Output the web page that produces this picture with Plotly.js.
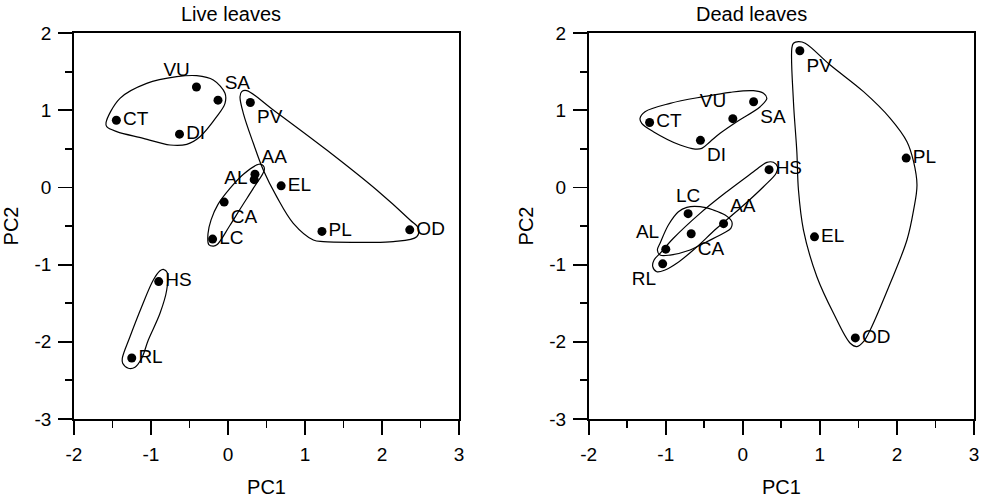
<!DOCTYPE html>
<html><head><meta charset="utf-8">
<script src="https://cdn.plot.ly/plotly-3.0.1.min.js"></script>
<style>html,body{margin:0;padding:0;background:#fff}#chart{width:981px;height:501px}</style>
</head><body><div id="chart"></div>
<script>
// ---------- data: Live leaves ----------
const liveLabels = ['CT','VU','SA','DI','PV','AA','AL','EL','CA','LC','PL','OD','HS','RL'];
const livePC1 = [-1.45,-0.41,-0.13,-0.63,0.29,0.35,0.34,0.69,-0.05,-0.20,1.22,2.36,-0.90,-1.25];
const livePC2 = [0.87,1.30,1.13,0.69,1.10,0.17,0.10,0.02,-0.19,-0.67,-0.57,-0.55,-1.22,-2.21];

// ---------- data: Dead leaves ----------
const deadLabels = ['CT','VU','SA','DI','PV','PL','HS','LC','AA','CA','AL','RL','EL','OD'];
const deadPC1 = [-1.21,-0.13,0.14,-0.55,0.74,2.12,0.34,-0.71,-0.25,-0.67,-1.00,-1.04,0.93,1.46];
const deadPC2 = [0.84,0.89,1.11,0.61,1.77,0.38,0.23,-0.34,-0.47,-0.60,-0.80,-0.99,-0.64,-1.95];

// ---------- group outlines ----------
const liveHullA_x = [-1.584,-1.403,-1.056,-0.666,-0.406,-0.191,-0.039,-0.039,-0.147,-0.364,-0.536,-0.753,-1.100,-1.445,-1.575];
const liveHullA_y = [0.838,1.154,1.348,1.434,1.447,1.391,1.219,1.089,0.916,0.657,0.558,0.549,0.636,0.722,0.786];
const liveHullB_x = [0.178,0.243,0.588,1.282,1.931,2.364,2.472,2.451,2.147,1.714,1.238,1.108,0.848,0.632,0.458,0.329,0.199,0.156];
const liveHullB_y = [1.240,1.253,1.003,0.484,-0.034,-0.422,-0.530,-0.639,-0.703,-0.711,-0.703,-0.681,-0.465,-0.120,0.225,0.571,0.960,1.175];
const liveHullC_x = [0.40,0.20,0.02,-0.13,-0.22,-0.26,-0.25,-0.19,-0.14,0.02,0.17,0.33,0.47,0.46];
const liveHullC_y = [0.30,0.17,-0.02,-0.22,-0.42,-0.60,-0.74,-0.76,-0.74,-0.50,-0.26,-0.01,0.22,0.28];
const liveHullD_x = [-0.840,-0.788,-0.796,-0.883,-1.035,-1.121,-1.208,-1.295,-1.368,-1.373,-1.273,-1.121,-0.970,-0.883];
const liveHullD_y = [-1.061,-1.105,-1.329,-1.631,-1.977,-2.214,-2.330,-2.343,-2.279,-2.214,-1.934,-1.545,-1.199,-1.079];

const deadHullA_x = [-1.334,-1.269,-0.944,-0.512,-0.165,0.138,0.268,0.312,0.225,-0.078,-0.295,-0.425,-0.532,-0.619,-0.814,-1.161,-1.312];
const deadHullA_y = [0.895,0.981,1.089,1.175,1.232,1.253,1.219,1.154,1.045,0.851,0.701,0.592,0.506,0.497,0.549,0.722,0.830];
const deadHullB_x = [0.657,0.722,0.809,1.134,1.566,1.913,2.130,2.216,2.260,2.216,2.130,1.913,1.653,1.566,1.481,1.394,1.177,0.961,0.787,0.722,0.701,0.657,0.636];
const deadHullB_y = [1.867,1.887,1.867,1.585,1.240,0.895,0.592,0.333,0.031,-0.293,-0.681,-1.242,-1.847,-1.999,-2.063,-2.019,-1.631,-1.157,-0.552,-0.034,0.462,1.110,1.802];
const deadHullC_x = [0.312,0.397,0.449,0.432,0.268,-0.035,-0.338,-0.642,-0.857,-1.009,-1.117,-1.169,-1.152,-1.074,-0.901,-0.555,-0.208,0.138,0.268];
const deadHullC_y = [0.325,0.325,0.268,0.183,0.009,-0.271,-0.530,-0.811,-0.983,-1.070,-1.092,-1.027,-0.940,-0.854,-0.659,-0.336,-0.056,0.203,0.299];
const deadHullD_x = [-1.109,-1.074,-0.966,-0.836,-0.727,-0.555,-0.382,-0.230,-0.143,-0.156,-0.252,-0.468,-0.684,-0.944,-1.074];
const deadHullD_y = [-0.811,-0.724,-0.487,-0.315,-0.258,-0.250,-0.293,-0.358,-0.444,-0.530,-0.595,-0.703,-0.811,-0.876,-0.876];

// ---------- tick labels ----------
const tickValues = [-3,-2,-1,0,1,2,3];
const tickLabels = ['-3','-2','-1','0','1','2','3'];

// ---------- styles ----------
const livePos = ['middle right','top left','top right','middle right','bottom right','top right','middle left',
  'middle right','bottom right','middle right','middle right','middle right','middle right','middle right'];
const deadPos = ['middle right','top left','bottom right','bottom right','bottom right','middle right','middle right',
  'top center','top right','bottom right','top left','bottom left','middle right','middle right'];

const FONT = 'Liberation Sans, Arial, Helvetica, sans-serif';

function hullTrace(xs, ys, xa, ya) {
  return {
    x: xs.concat([xs[0]]), y: ys.concat([ys[0]]),
    xaxis: xa, yaxis: ya, type: 'scatter', mode: 'lines',
    line: {color: '#000', width: 1.2, shape: 'spline', smoothing: 1},
    hoverinfo: 'skip', showlegend: false
  };
}
function pointTrace(xs, ys, labels, pos, xa, ya) {
  return {
    x: xs, y: ys, text: labels, textposition: pos,
    xaxis: xa, yaxis: ya, type: 'scatter', mode: 'markers+text',
    marker: {color: '#000', size: 9},
    textfont: {family: FONT, size: 19, color: '#000'},
    showlegend: false
  };
}

const data = [
  hullTrace(liveHullA_x, liveHullA_y, 'x', 'y'),
  hullTrace(liveHullB_x, liveHullB_y, 'x', 'y'),
  hullTrace(liveHullC_x, liveHullC_y, 'x', 'y'),
  hullTrace(liveHullD_x, liveHullD_y, 'x', 'y'),
  pointTrace(livePC1, livePC2, liveLabels, livePos, 'x', 'y'),
  hullTrace(deadHullA_x, deadHullA_y, 'x2', 'y2'),
  hullTrace(deadHullB_x, deadHullB_y, 'x2', 'y2'),
  hullTrace(deadHullC_x, deadHullC_y, 'x2', 'y2'),
  hullTrace(deadHullD_x, deadHullD_y, 'x2', 'y2'),
  pointTrace(deadPC1, deadPC2, deadLabels, deadPos, 'x2', 'y2')
];

function axis(extra) {
  return Object.assign({
    showgrid: false, zeroline: false, showline: true, linecolor: '#000', linewidth: 1.8, mirror: true,
    ticks: 'outside', ticklen: 14, tickwidth: 1.8, tickcolor: '#000',
    tickmode: 'array', tickvals: tickValues, ticktext: tickLabels,
    minor: {ticks: 'outside', ticklen: 7, tickwidth: 1.8, tickcolor: '#000', tickmode: 'linear', tick0: 0, dtick: 0.5, showgrid: false},
    tickfont: {family: FONT, size: 19, color: '#000'},
    fixedrange: true
  }, extra);
}
const xTitle = {text: 'PC1', font: {family: FONT, size: 20, color: '#000'}, standoff: 16};
const yTitle = {text: 'PC2', font: {family: FONT, size: 20, color: '#000'}, standoff: 10};

const layout = {
  width: 981, height: 501,
  margin: {l: 74, r: 7, t: 33, b: 82},
  paper_bgcolor: '#fff', plot_bgcolor: '#fff',
  showlegend: false,
  xaxis: axis({domain: [0, 0.4278], range: [-2, 3], anchor: 'y', title: xTitle, ticklabelstandoff: 3}),
  yaxis: axis({domain: [0, 1], range: [-3, 2], anchor: 'x', title: yTitle, ticklabelstandoff: 3}),
  xaxis2: axis({domain: [0.5719, 1], range: [-2, 3], anchor: 'y2', title: xTitle, ticklabelstandoff: 3}),
  yaxis2: axis({domain: [0, 1], range: [-3, 2], anchor: 'x2', title: yTitle, ticklabelstandoff: 3}),
  annotations: [
    {text: 'Live leaves', xref: 'paper', yref: 'paper', x: 0.1744, y: 1.049, xanchor: 'center', yanchor: 'middle',
     showarrow: false, font: {family: FONT, size: 20, color: '#000'}},
    {text: 'Dead leaves', xref: 'paper', yref: 'paper', x: 0.7533, y: 1.049, xanchor: 'center', yanchor: 'middle',
     showarrow: false, font: {family: FONT, size: 20, color: '#000'}}
  ]
};

Plotly.newPlot('chart', data, layout, {staticPlot: true, displayModeBar: false});
</script>
</body></html>
